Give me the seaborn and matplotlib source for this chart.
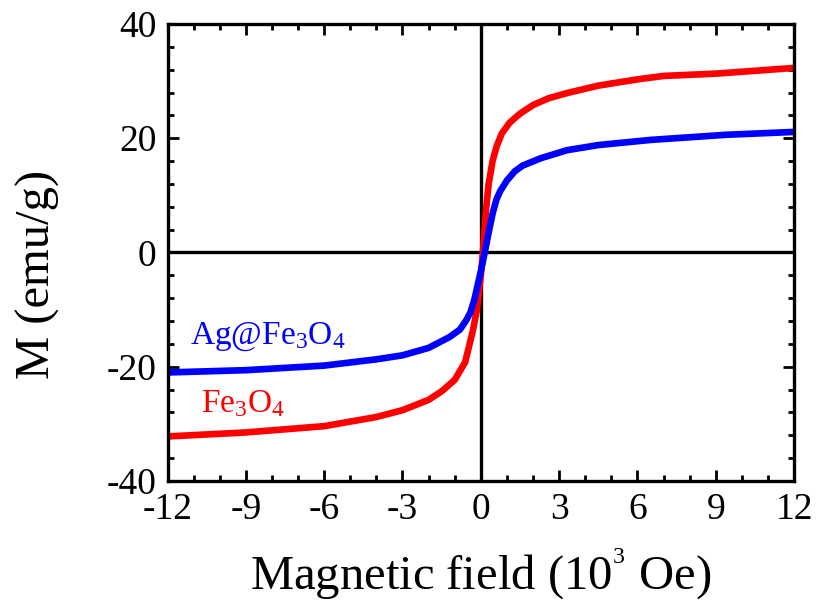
import numpy as np
import pandas as pd
import matplotlib
matplotlib.use("Agg")
import matplotlib.pyplot as plt
from matplotlib.ticker import MultipleLocator
import seaborn as sns

# M-H curves
field_fe3o4 = [-12, -9, -6, -4, -3, -2, -1.5, -1, -0.6, -0.3, -0.15, 0, 0.08, 0.2,
               0.3, 0.45, 0.6, 0.8, 1.1, 1.5, 2, 2.6, 3.3, 4.5, 6, 7, 9, 10.5, 12]
m_fe3o4 = [-32.2, -31.5, -30.4, -28.8, -27.6, -25.8, -24.3, -22.3, -19.2, -13.6, -10, -4, 0, 7.5,
           12.0, 16.0, 18.5, 20.8, 22.7, 24.3, 25.8, 27.0, 27.9, 29.2, 30.3, 30.9, 31.3, 31.8, 32.3]

field_ag = [-12, -9, -6, -4, -3, -2, -1.2, -0.8, -0.55, -0.4, -0.25, -0.1, 0, 0.15, 0.3,
            0.45, 0.6, 0.75, 1, 1.3, 1.6, 2.3, 3.3, 4.5, 6.5, 9.4, 12]
m_ag = [-21, -20.6, -19.8, -18.7, -18, -16.7, -14.8, -13.5, -11.8, -10.5, -8.3, -5.3, -3.3, 0, 3.5,
        6.8, 9.3, 10.8, 12.6, 14.2, 15.2, 16.5, 17.9, 18.8, 19.7, 20.6, 21.1]

df = pd.concat([
    pd.DataFrame({"H": field_fe3o4, "M": m_fe3o4, "sample": "Fe3O4"}),
    pd.DataFrame({"H": field_ag, "M": m_ag, "sample": "Ag@Fe3O4"}),
])

sns.set_style("ticks")
plt.rcParams["font.family"] = ["Liberation Serif", "DejaVu Serif"]
plt.rcParams["mathtext.default"] = "regular"
plt.rcParams["axes.unicode_minus"] = False
plt.rcParams["text.color"] = "black"
plt.rcParams["axes.labelcolor"] = "black"
plt.rcParams["axes.edgecolor"] = "black"
plt.rcParams["xtick.color"] = "black"
plt.rcParams["ytick.color"] = "black"

fig = plt.figure(figsize=(8.18, 6.03), dpi=100)
ax = fig.add_axes([0.2048, 0.2023, 0.766, 0.758])

# zero lines
ax.axhline(0, color="black", lw=2.4, zorder=1)
ax.axvline(0, color="black", lw=2.4, zorder=1)

sns.lineplot(data=df, x="H", y="M", hue="sample",
             palette={"Fe3O4": "#ff0000", "Ag@Fe3O4": "#0000ff"},
             hue_order=["Fe3O4", "Ag@Fe3O4"],
             lw=4.8, legend=False, ax=ax, zorder=2)

ax.set_xlim(-12, 12)
ax.set_ylim(-40, 40)
ax.xaxis.set_major_locator(MultipleLocator(3))
ax.xaxis.set_minor_locator(MultipleLocator(1))
ax.yaxis.set_major_locator(MultipleLocator(20))
ax.yaxis.set_minor_locator(MultipleLocator(4))
ax.tick_params(which="both", direction="in", top=True, right=True, width=2, colors="black")
ax.tick_params(which="major", length=8, labelsize=27, pad=8)
ax.tick_params(which="minor", length=4.5)
for s in ax.spines.values():
    s.set_linewidth(2.4)

ax.set_xlabel("Magnetic field (10$^{^3}$ Oe)", fontsize=35, labelpad=14)
ax.set_ylabel("M (emu/g)", fontsize=35)
ax.yaxis.set_label_coords(-0.172, 0.453)

ax.text(-11.15, -15.9, "Ag@Fe$_3$O$_4$", color="#0000ff", fontsize=24)
ax.text(-10.7, -28.0, "Fe$_3$O$_4$", color="#ff0000", fontsize=24)

plt.savefig("out.png", dpi=100)
